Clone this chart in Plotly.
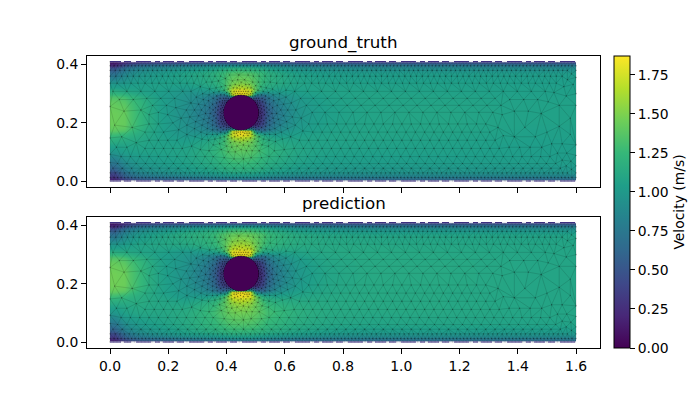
import numpy as np
import plotly.graph_objects as go

X_EDGES = [0,.03,.07,.13,.22,.30,.36,.39,.41,.43,.47,.49,.51,.54,.60,.68,.80,1.0,1.3,1.6]
Y_EDGES = [0,.006,.018,.04,.08,.12,.15,.165,.18,.21,.26,.29,.305,.32,.35,.39,.402,.41]

TRUTH = [
 [.12,.25,.38,.42,.46,.48,.5,.5,.5,.5,.5,.5,.5,.48,.46,.46,.46,.46,.46],
 [.25,.48,.62,.68,.74,.78,.82,.84,.85,.85,.85,.84,.82,.78,.76,.76,.76,.76,.76],
 [.42,.68,.85,.92,.98,1.02,1.06,1.08,1.1,1.1,1.1,1.08,1.06,1.02,.98,.96,.95,.95,.95],
 [.72,.88,.98,1.02,1.06,1.12,1.18,1.22,1.24,1.25,1.24,1.22,1.18,1.12,1.06,1.03,1.02,1.02,1.02],
 [.98,1.04,1.06,1.06,1.08,1.16,1.26,1.32,1.36,1.38,1.36,1.32,1.26,1.18,1.1,1.06,1.05,1.05,1.03],
 [1.14,1.12,1.1,1.06,1.04,1.1,1.22,1.34,1.46,1.52,1.46,1.34,1.22,1.12,1.08,1.07,1.07,1.06,1.04],
 [1.26,1.22,1.14,1.05,.98,1.0,1.12,1.36,1.72,1.85,1.72,1.36,1.12,1.02,1.05,1.07,1.08,1.07,1.05],
 [1.38,1.34,1.18,1.04,.96,.9,.74,.85,1.7,1.87,1.7,.85,.74,.92,1.02,1.06,1.08,1.08,1.05],
 [1.44,1.42,1.24,1.05,.94,.8,.46,.3,0,0,0,.25,.44,.8,.98,1.05,1.08,1.09,1.06],
 [1.44,1.42,1.24,1.04,.92,.76,.36,.2,0,0,0,.15,.34,.76,.96,1.04,1.08,1.09,1.06],
 [1.4,1.36,1.22,1.04,.94,.82,.5,.35,0,0,0,.3,.48,.82,.98,1.05,1.08,1.08,1.06],
 [1.26,1.22,1.12,1.02,.96,.9,.74,.85,1.7,1.87,1.7,.85,.74,.92,1.02,1.06,1.08,1.07,1.05],
 [1.14,1.1,1.06,1.04,.98,1.0,1.12,1.36,1.72,1.85,1.72,1.36,1.12,1.04,1.05,1.07,1.07,1.06,1.05],
 [.98,1.0,1.04,1.05,1.06,1.12,1.22,1.34,1.46,1.52,1.46,1.34,1.22,1.14,1.08,1.06,1.05,1.05,1.04],
 [.68,.85,.96,1.02,1.08,1.14,1.24,1.3,1.34,1.36,1.34,1.3,1.24,1.14,1.06,1.03,1.02,1.02,1.02],
 [.25,.48,.66,.74,.82,.88,.92,.95,.96,.96,.96,.95,.92,.86,.8,.78,.78,.78,.78],
 [.12,.25,.36,.4,.44,.48,.5,.5,.5,.5,.5,.5,.5,.48,.46,.46,.46,.46,.46],
]
PREDICTION = [
 [.12,.25,.38,.44,.48,.5,.52,.52,.52,.52,.52,.52,.52,.5,.48,.48,.48,.48,.48],
 [.25,.48,.64,.7,.78,.82,.86,.88,.9,.9,.9,.88,.86,.82,.8,.78,.78,.78,.78],
 [.42,.68,.87,.96,1.04,1.08,1.12,1.14,1.16,1.16,1.16,1.14,1.12,1.08,1.04,1.0,.98,.98,.98],
 [.72,.9,1.0,1.06,1.12,1.2,1.26,1.3,1.32,1.33,1.32,1.3,1.26,1.2,1.14,1.1,1.08,1.08,1.07],
 [.98,1.06,1.1,1.1,1.14,1.24,1.34,1.4,1.44,1.46,1.44,1.4,1.34,1.26,1.18,1.13,1.11,1.11,1.09],
 [1.14,1.14,1.14,1.1,1.08,1.16,1.3,1.44,1.56,1.62,1.56,1.44,1.3,1.18,1.14,1.12,1.12,1.11,1.09],
 [1.28,1.24,1.16,1.08,1.0,1.02,1.16,1.44,1.8,1.87,1.8,1.44,1.14,1.06,1.08,1.11,1.12,1.11,1.09],
 [1.4,1.36,1.2,1.06,.98,.9,.74,.88,1.78,1.87,1.78,.88,.74,.94,1.05,1.1,1.12,1.11,1.09],
 [1.46,1.44,1.26,1.07,.96,.8,.46,.3,0,0,0,.25,.44,.82,1.0,1.09,1.12,1.12,1.09],
 [1.46,1.44,1.26,1.06,.94,.76,.36,.2,0,0,0,.15,.34,.78,.98,1.08,1.12,1.12,1.09],
 [1.42,1.38,1.24,1.06,.96,.82,.5,.35,0,0,0,.3,.48,.84,1.0,1.09,1.12,1.12,1.09],
 [1.28,1.24,1.14,1.04,.98,.9,.74,.88,1.78,1.87,1.78,.88,.74,.94,1.05,1.1,1.12,1.11,1.09],
 [1.14,1.12,1.08,1.06,1.0,1.02,1.16,1.44,1.8,1.87,1.8,1.44,1.14,1.08,1.08,1.11,1.12,1.11,1.09],
 [.98,1.02,1.08,1.1,1.12,1.18,1.3,1.44,1.56,1.62,1.56,1.44,1.3,1.2,1.14,1.12,1.11,1.1,1.09],
 [.68,.87,1.0,1.08,1.16,1.22,1.32,1.38,1.42,1.44,1.42,1.38,1.32,1.22,1.14,1.1,1.08,1.08,1.07],
 [.25,.48,.68,.78,.88,.94,.98,1.0,1.02,1.02,1.02,1.0,.98,.92,.86,.82,.8,.8,.8],
 [.12,.25,.38,.44,.48,.5,.52,.52,.52,.52,.52,.52,.52,.5,.48,.48,.48,.48,.48],
]
ZMAX = 1.87
TITLES = ["ground_truth", "prediction"]
CBAR_TICKS = [0, .25, .5, .75, 1, 1.25, 1.5, 1.75]
X_TICKS = [0, .2, .4, .6, .8, 1.0, 1.2, 1.4, 1.6]
Y_TICKS = [0, .2, .4]
CYL_X, CYL_Y, CYL_R = .45, .235, .06
XMAX, YMAX = 1.6, .41

# the page has an 8px body margin
W, H, PAD = 691, 392, 8
def fx(px): return (px - PAD) / W
def fy(px): return 1 - (px - PAD) / H


def mesh_edges():
    def size(x, y):
        dw = min(y, YMAX - y)
        dc = max(np.hypot(x - CYL_X, y - CYL_Y) - CYL_R, 0)
        base = .046 if (x < .12 or x > 1.35) else .031
        return min(.009 + .2 * dw, .005 + .17 * dc, base)
    cand = []
    for i in range(int(XMAX / .004) + 1):
        cand.append((i * .004, 0.0)); cand.append((i * .004, YMAX))
    for k in range(40):
        t = 2 * np.pi * k / 40
        cand.append((CYL_X + CYL_R * np.cos(t), CYL_Y + CYL_R * np.sin(t)))
    for j in range(1, int(YMAX / .004)):
        y = j * .004
        cand.append((0.0, y)); cand.append((XMAX, y))
    for j in range(1, int(YMAX / .004)):
        for i in range(1, int(XMAX / .004)):
            x, y = i * .004 + (j % 2) * .002, j * .004
            if np.hypot(x - CYL_X, y - CYL_Y) > CYL_R:
                cand.append((x, y))
    key = lambda p: min(p[1], YMAX - p[1], max(np.hypot(p[0]-CYL_X, p[1]-CYL_Y) - CYL_R, 0))
    cand.sort(key=key)
    pts = np.zeros((len(cand), 2)); n = 0
    for x, y in cand:
        h = size(x, y)
        if n == 0 or ((pts[:n, 0] - x) ** 2 + (pts[:n, 1] - y) ** 2).min() > h * h:
            pts[n] = (x, y); n += 1
    pts = pts[:n]
    all_pts = np.vstack([pts, [[-20, -20], [40, -20], [.8, 40]]])

    def circ(t):
        a, b, c = all_pts[t[:, 0]], all_pts[t[:, 1]], all_pts[t[:, 2]]
        d = 2 * (a[:, 0] * (b[:, 1] - c[:, 1]) + b[:, 0] * (c[:, 1] - a[:, 1]) + c[:, 0] * (a[:, 1] - b[:, 1]))
        d = np.where(np.abs(d) < 1e-14, 1e-14, d)
        A, B, C = (a ** 2).sum(1), (b ** 2).sum(1), (c ** 2).sum(1)
        ux = (A * (b[:, 1] - c[:, 1]) + B * (c[:, 1] - a[:, 1]) + C * (a[:, 1] - b[:, 1])) / d
        uy = (A * (c[:, 0] - b[:, 0]) + B * (a[:, 0] - c[:, 0]) + C * (b[:, 0] - a[:, 0])) / d
        return ux, uy, (a[:, 0] - ux) ** 2 + (a[:, 1] - uy) ** 2

    tri = np.array([[n, n + 1, n + 2]])
    ux, uy, r2 = circ(tri)
    for p in np.argsort(pts[:, 0]):
        x, y = pts[p]
        bad = (ux - x) ** 2 + (uy - y) ** 2 < r2
        cnt = {}
        for t in tri[bad]:
            for e in ((t[0], t[1]), (t[1], t[2]), (t[2], t[0])):
                k = (min(e), max(e))
                cnt[k] = cnt.get(k, 0) + 1
        new = np.array([[a, b, p] for (a, b), c in cnt.items() if c == 1])
        keep = ~bad
        nx, ny, nr = circ(new)
        tri = np.vstack([tri[keep], new])
        ux = np.concatenate([ux[keep], nx]); uy = np.concatenate([uy[keep], ny]); r2 = np.concatenate([r2[keep], nr])
    edges = set()
    for t in tri:
        if t.max() >= n:
            continue
        for e in ((t[0], t[1]), (t[1], t[2]), (t[2], t[0])):
            edges.add((int(min(e)), int(max(e))))
    ex, ey = [], []
    for a, b in edges:
        ex += [pts[a, 0], pts[b, 0], None]
        ey += [pts[a, 1], pts[b, 1], None]
    return pts, ex, ey


pts, ex, ey = mesh_edges()
fig = go.Figure()
for i, (z, tt) in enumerate(zip((TRUTH, PREDICTION), TITLES)):
    xa, ya = ("x", "y") if i == 0 else ("x2", "y2")
    fig.add_trace(go.Heatmap(
        x=X_EDGES, y=Y_EDGES, z=z, zsmooth="best", colorscale="Viridis", zmin=0, zmax=ZMAX,
        xaxis=xa, yaxis=ya, showscale=i == 0,
        colorbar=dict(x=fx(614), xanchor="left", xref="paper", y=fy(56), yanchor="top", yref="paper",
                      len=292 / H, lenmode="fraction", thickness=16, thicknessmode="pixels",
                      outlinecolor="black", outlinewidth=1, tickvals=CBAR_TICKS, tickformat=".2f",
                      ticks="outside", ticklen=5, tickwidth=1, tickcolor="black", xpad=0, ypad=0,
                      tickfont=dict(size=13.9, color="black"),
                      title=dict(text="Velocity (m/s)", side="right", font=dict(size=13.9, color="black")))))
    fig.add_trace(go.Scatter(x=ex, y=ey, mode="lines", xaxis=xa, yaxis=ya, showlegend=False, hoverinfo="skip",
                             line=dict(color="rgba(0,0,0,0.24)", width=0.5)))
    fig.add_trace(go.Scatter(x=pts[:, 0], y=pts[:, 1], mode="markers", xaxis=xa, yaxis=ya, showlegend=False,
                             hoverinfo="skip", marker=dict(color="rgba(0,0,0,0.3)", size=1.3)))
    for wy in (0, YMAX):
        fig.add_trace(go.Scatter(x=[0, XMAX], y=[wy, wy], mode="lines", xaxis=xa, yaxis=ya, showlegend=False,
                                 hoverinfo="skip", line=dict(color="#eceaf2", width=1.2)))
        fig.add_trace(go.Scatter(x=[0, XMAX], y=[wy, wy], mode="lines", xaxis=xa, yaxis=ya, showlegend=False,
                                 hoverinfo="skip", line=dict(color="#3d2f7f", width=1.2, dash="11px,3px,7px,5px,15px,4px,5px,3px")))
    fig.add_shape(type="circle", xref=xa, yref=ya, x0=CYL_X - CYL_R, x1=CYL_X + CYL_R,
                  y0=CYL_Y - CYL_R, y1=CYL_Y + CYL_R, fillcolor="#440154", line=dict(width=0), layer="above")

axis = dict(showline=True, mirror=True, linecolor="black", linewidth=1, ticks="outside", ticklen=5, tickwidth=1,
            tickcolor="black", showgrid=False, zeroline=False, tickfont=dict(size=13.9, color="black"))
xr = [-.079, 1.682]
yr = [-.0206, .4295]
fig.update_layout(
    width=W, height=H, margin=dict(l=0, r=0, t=0, b=0, autoexpand=False), paper_bgcolor="white", plot_bgcolor="white",
    font=dict(family="DejaVu Sans", color="black"), showlegend=False,
    xaxis=dict(axis, domain=[fx(87), fx(600)], range=xr, tickvals=X_TICKS, showticklabels=False, anchor="y"),
    yaxis=dict(axis, domain=[fy(187), fy(56)], range=yr, tickvals=Y_TICKS, tickformat=".1f", anchor="x"),
    xaxis2=dict(axis, domain=[fx(87), fx(600)], range=xr, tickvals=X_TICKS, tickformat=".1f", anchor="y2"),
    yaxis2=dict(axis, domain=[fy(348), fy(217)], range=yr, tickvals=Y_TICKS, tickformat=".1f", anchor="x2"),
    annotations=[
        dict(text=TITLES[0], xref="paper", yref="paper", x=fx(343.5), y=fy(54.5), xanchor="center",
             yanchor="bottom", showarrow=False, font=dict(size=16.7, color="black")),
        dict(text=TITLES[1], xref="paper", yref="paper", x=fx(343.5), y=fy(215), xanchor="center",
             yanchor="bottom", showarrow=False, font=dict(size=16.7, color="black")),
    ])
fig.write_html("out.html")
